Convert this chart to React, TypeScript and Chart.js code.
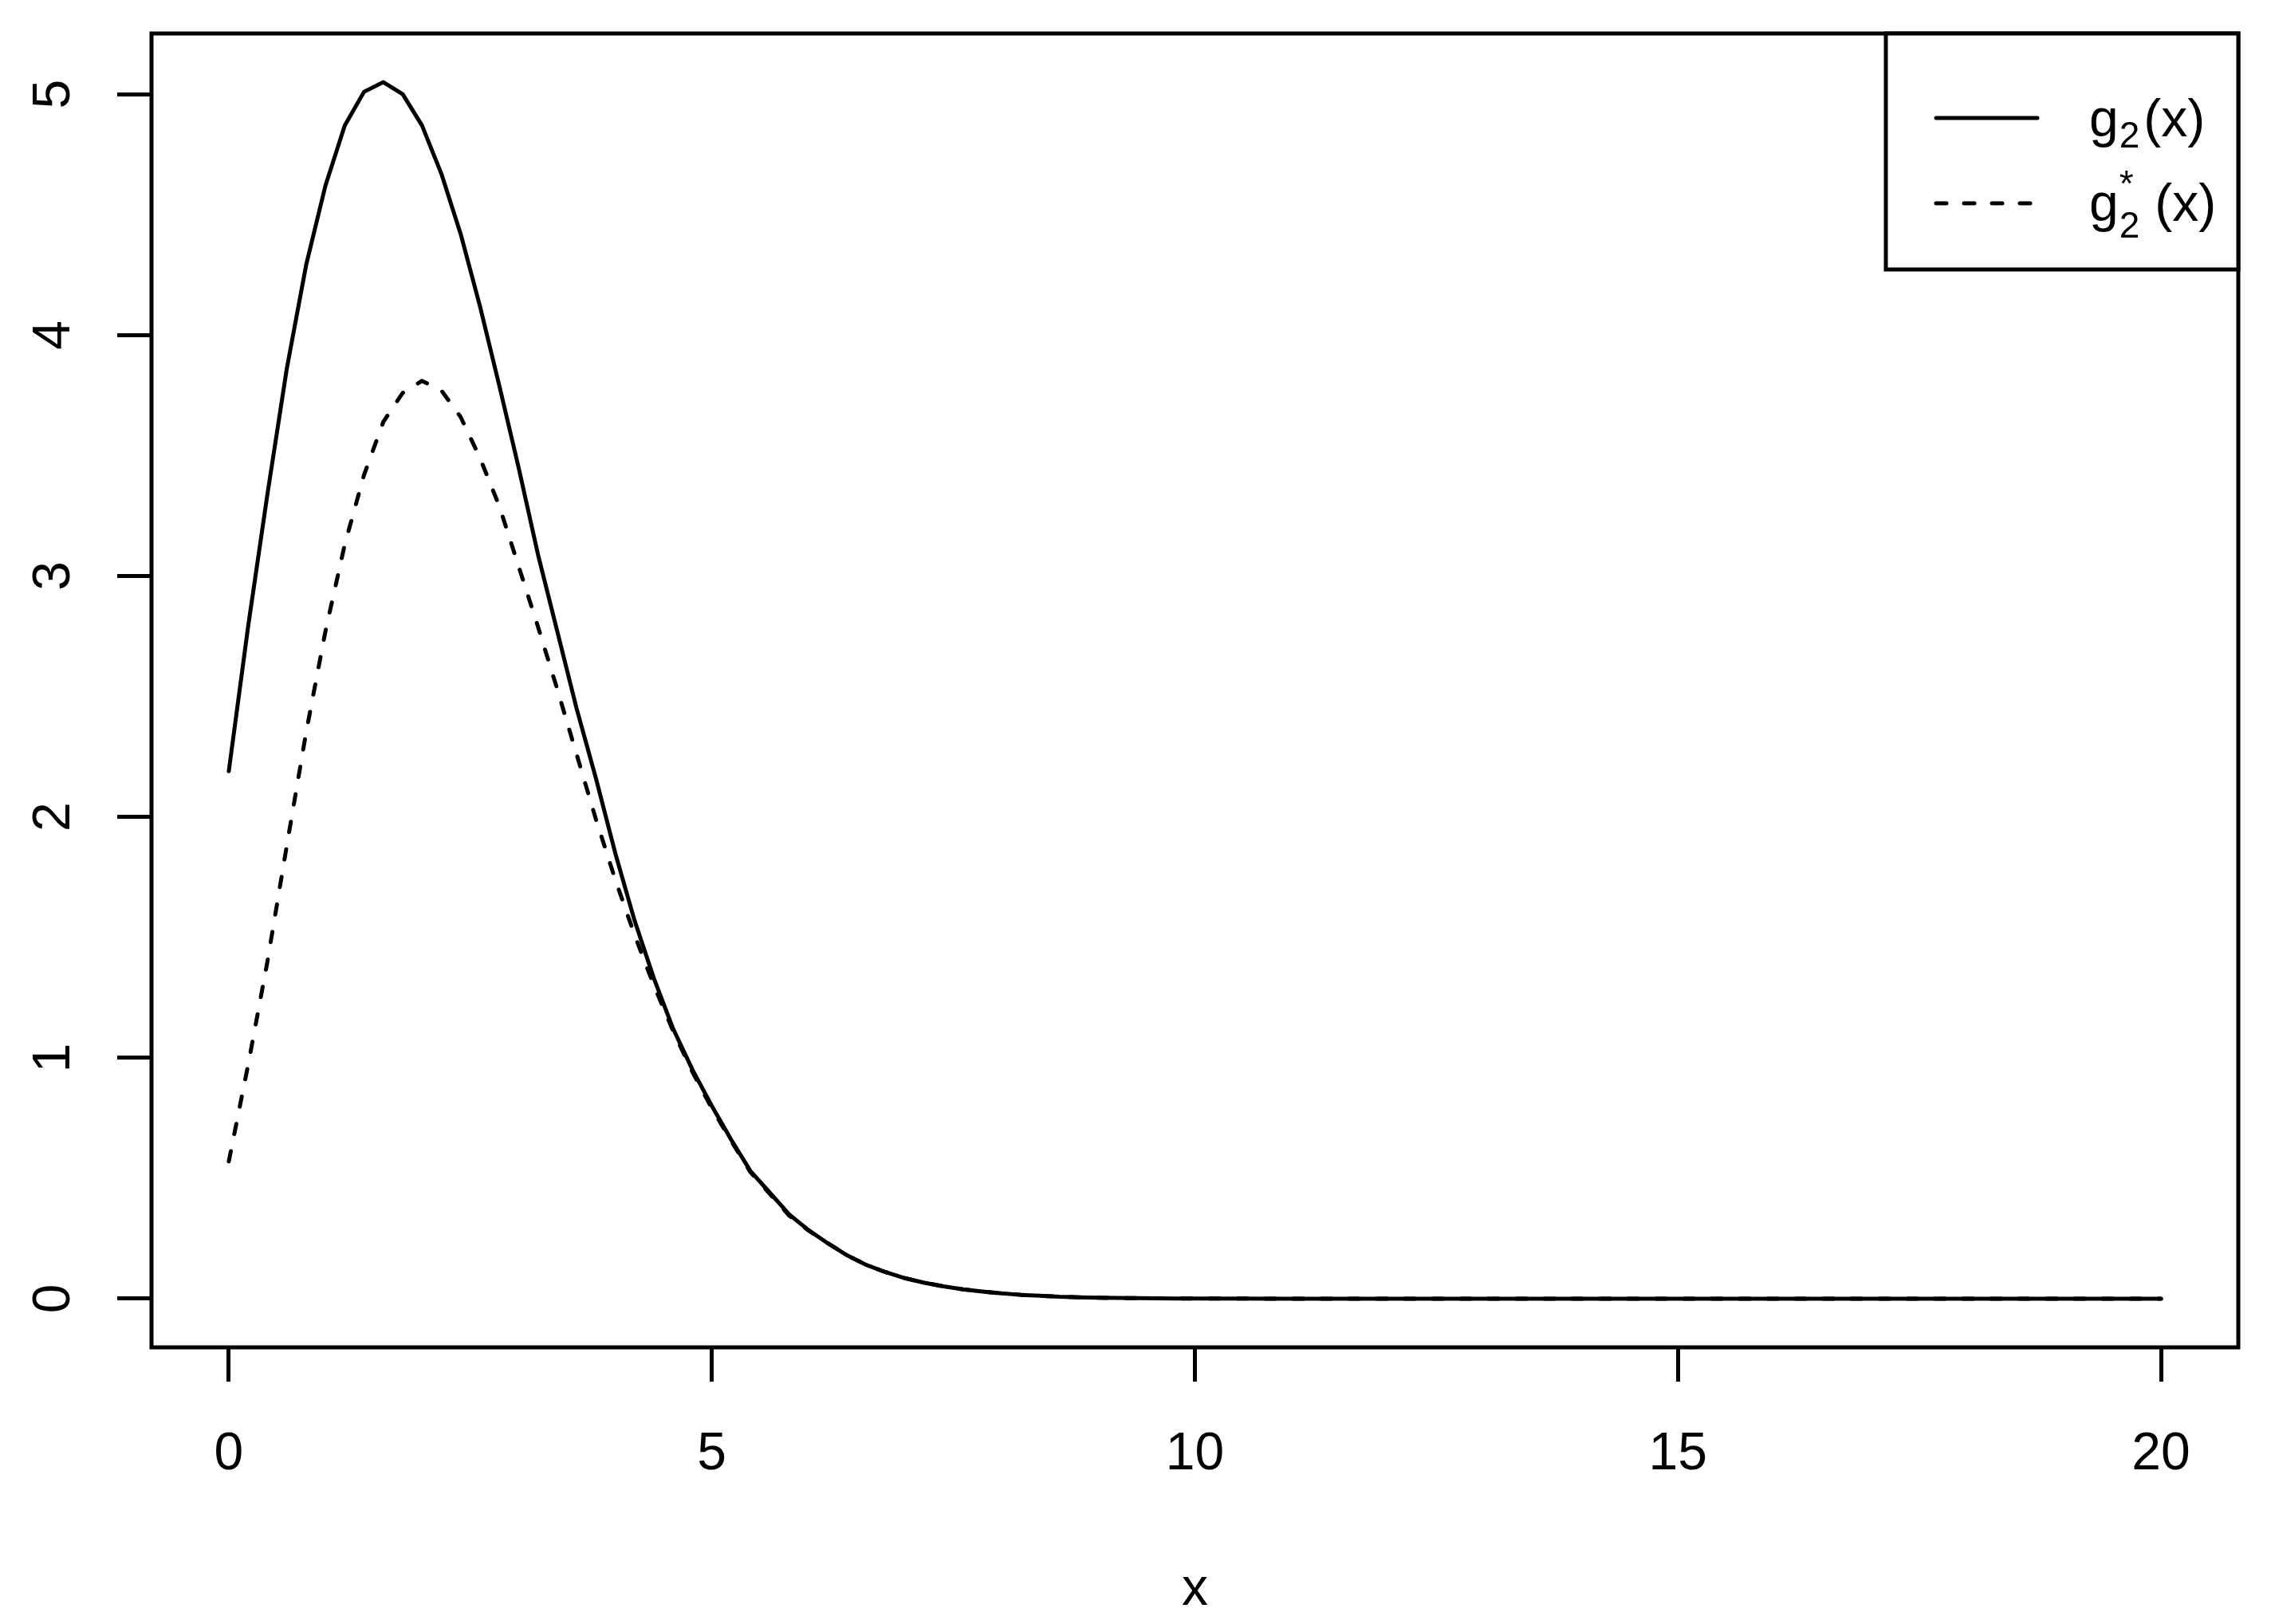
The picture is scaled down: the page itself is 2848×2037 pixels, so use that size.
import React, { useEffect, useRef } from "react";
import { Chart, registerables } from "chart.js";

Chart.register(...registerables);

// ---- data ----
const xValues = [
  0, 0.2, 0.4, 0.6, 0.8, 1.0, 1.2, 1.4, 1.6, 1.8,
  2.0, 2.2, 2.4, 2.6, 2.8, 3.0, 3.2, 3.4, 3.6, 3.8,
  4.0, 4.2, 4.4, 4.6, 4.8, 5.0, 5.2, 5.4, 5.6, 5.8,
  6.0, 6.2, 6.4, 6.6, 6.8, 7.0, 7.2, 7.4, 7.6, 7.8,
  8.0, 8.2, 8.4, 8.6, 8.8, 9.0, 9.2, 9.4, 9.6, 9.8,
  10, 11, 12, 13, 14, 15, 16, 17, 18, 19, 20,
];

const g2Values = [
  2.19, 2.79, 3.34, 3.86, 4.29, 4.62, 4.87, 5.01, 5.05, 5.0,
  4.87, 4.67, 4.42, 4.12, 3.79, 3.45, 3.09, 2.77, 2.45, 2.16,
  1.85, 1.57, 1.33, 1.12, 0.95, 0.8, 0.66, 0.53, 0.44, 0.35,
  0.285, 0.23, 0.18, 0.14, 0.11, 0.085, 0.066, 0.051, 0.039, 0.03,
  0.022, 0.016, 0.012, 0.008, 0.006, 0.004, 0.003, 0.002, 0.0015, 0.001,
  0.0007, 0, 0, 0, 0, 0, 0, 0, 0, 0, 0,
];

const g2StarValues = [
  0.57, 0.97, 1.4, 1.88, 2.35, 2.77, 3.13, 3.42, 3.64, 3.76,
  3.81, 3.77, 3.66, 3.49, 3.29, 3.04, 2.79, 2.53, 2.26, 1.99,
  1.74, 1.51, 1.3, 1.11, 0.94, 0.79, 0.655, 0.525, 0.435, 0.345,
  0.283, 0.23, 0.18, 0.14, 0.11, 0.085, 0.066, 0.051, 0.039, 0.03,
  0.022, 0.016, 0.012, 0.008, 0.006, 0.004, 0.003, 0.002, 0.0015, 0.001,
  0.0007, 0, 0, 0, 0, 0, 0, 0, 0, 0, 0,
];

const xTicks = [0, 5, 10, 15, 20];
const yTicks = [0, 1, 2, 3, 4, 5];
const xAxisTitle = "x";
const legendBase = "g";
const legendSub = "2";
const legendSup = "*";
const legendArg = "(x)";

// ---- style ----
const W = 2848;
const H = 2037;
const FONT = '"Liberation Sans", Arial, Helvetica, sans-serif';
const FS = 66;
const SUBFS = 46;
const LW = 5;
const PLOT_BOTTOM = 1690;

const rPlotPlugin = {
  id: "rPlot",
  afterDraw(chart: any) {
    const { ctx, chartArea: a } = chart;
    ctx.save();
    ctx.strokeStyle = "#000";
    ctx.lineWidth = LW;
    ctx.lineJoin = "miter";
    ctx.strokeRect(a.left, a.top, a.right - a.left, a.bottom - a.top);

    // legend box (top-right corner)
    const lw = 442;
    const lh = 296;
    const lx = a.right - lw;
    const ly = a.top;
    ctx.fillStyle = "#fff";
    ctx.fillRect(lx, ly, lw, lh);
    ctx.strokeRect(lx, ly, lw, lh);

    const row1 = ly + 106;
    const row2 = ly + 213;
    const segX0 = lx + 63;
    const segX1 = lx + 190;

    ctx.lineCap = "round";
    ctx.beginPath();
    ctx.moveTo(segX0, row1);
    ctx.lineTo(segX1, row1);
    ctx.stroke();

    ctx.setLineDash([13, 22]);
    ctx.beginPath();
    ctx.moveTo(segX0, row2);
    ctx.lineTo(segX1, row2);
    ctx.stroke();
    ctx.setLineDash([]);

    ctx.fillStyle = "#000";
    ctx.textAlign = "left";
    ctx.textBaseline = "alphabetic";
    const tx = lx + 255;

    // row 1: g_2(x)
    const base1 = row1 + 23;
    ctx.font = `${FS}px ${FONT}`;
    ctx.fillText(legendBase, tx, base1);
    let x1 = tx + ctx.measureText(legendBase).width;
    ctx.font = `${SUBFS}px ${FONT}`;
    ctx.fillText(legendSub, x1 + 1, base1 + 14);
    x1 += ctx.measureText(legendSub).width + 6;
    ctx.font = `${FS}px ${FONT}`;
    ctx.fillText(legendArg, x1, base1);

    // row 2: g_2^*(x)
    const base2 = row2 + 22;
    ctx.font = `${FS}px ${FONT}`;
    ctx.fillText(legendBase, tx, base2);
    let x2 = tx + ctx.measureText(legendBase).width;
    ctx.font = `${SUBFS}px ${FONT}`;
    ctx.fillText(legendSub, x2 + 1, base2 + 21);
    ctx.fillText(legendSup, x2 + 1, base2 - 31);
    x2 += Math.max(ctx.measureText(legendSub).width, ctx.measureText(legendSup).width) + 20;
    ctx.font = `${FS}px ${FONT}`;
    ctx.fillText(legendArg, x2, base2);

    ctx.restore();
  },
};

export default function App() {
  const ref = useRef<HTMLCanvasElement | null>(null);

  useEffect(() => {
    const canvas = ref.current;
    if (!canvas) return;
    const chart = new Chart(canvas, {
      type: "line",
      data: {
        datasets: [
          {
            label: "g2(x)",
            data: xValues.map((x, i) => ({ x, y: g2Values[i] })),
            borderColor: "#000",
            borderWidth: LW,
            pointRadius: 0,
            tension: 0,
            fill: false,
            borderCapStyle: "round",
            borderJoinStyle: "round",
          },
          {
            label: "g2*(x)",
            data: xValues.map((x, i) => ({ x, y: g2StarValues[i] })),
            borderColor: "#000",
            borderWidth: LW,
            borderDash: [13, 22],
            pointRadius: 0,
            tension: 0,
            fill: false,
            borderCapStyle: "round",
            borderJoinStyle: "round",
          },
        ],
      },
      options: {
        animation: false,
        responsive: false,
        devicePixelRatio: 1,
        layout: { padding: { top: 42, right: 41, left: 0, bottom: 0 } },
        plugins: {
          legend: { display: false },
          tooltip: { enabled: false },
        },
        scales: {
          x: {
            type: "linear",
            min: -0.8,
            max: 20.8,
            afterBuildTicks: (s: any) => {
              s.ticks = xTicks.map((v) => ({ value: v }));
            },
            afterFit: (s: any) => {
              s.height = H - PLOT_BOTTOM;
              s.paddingLeft = 0;
              s.paddingRight = 0;
            },
            grid: {
              drawOnChartArea: false,
              drawTicks: true,
              tickLength: 43,
              tickWidth: LW,
              tickColor: "#000",
              color: "#000",
            },
            border: { display: false },
            ticks: {
              font: { family: FONT, size: FS },
              color: "#000",
              padding: 52,
              minRotation: 0,
              maxRotation: 0,
              autoSkip: false,
              callback: (v: any) => String(v),
            },
            title: {
              display: true,
              text: xAxisTitle,
              color: "#000",
              font: { family: FONT, size: FS },
              padding: { top: 0, bottom: 3 },
            },
          },
          y: {
            type: "linear",
            min: -0.202,
            max: 5.252,
            afterBuildTicks: (s: any) => {
              s.ticks = yTicks.map((v) => ({ value: v }));
            },
            afterFit: (s: any) => {
              s.width = 190;
              s.paddingTop = 0;
              s.paddingBottom = 0;
            },
            grid: {
              drawOnChartArea: false,
              drawTicks: true,
              tickLength: 43,
              tickWidth: LW,
              tickColor: "#000",
              color: "#000",
            },
            border: { display: false },
            ticks: {
              font: { family: FONT, size: FS },
              color: "#000",
              padding: 60,
              minRotation: 90,
              maxRotation: 90,
              crossAlign: "center",
              autoSkip: false,
              callback: (v: any) => String(v),
            },
          },
        },
      },
      plugins: [rPlotPlugin],
    } as any);
    return () => chart.destroy();
  }, []);

  return (
    <canvas
      ref={ref}
      width={W}
      height={H}
      style={{ position: "fixed", left: 0, top: 0, width: W, height: H }}
    />
  );
}
